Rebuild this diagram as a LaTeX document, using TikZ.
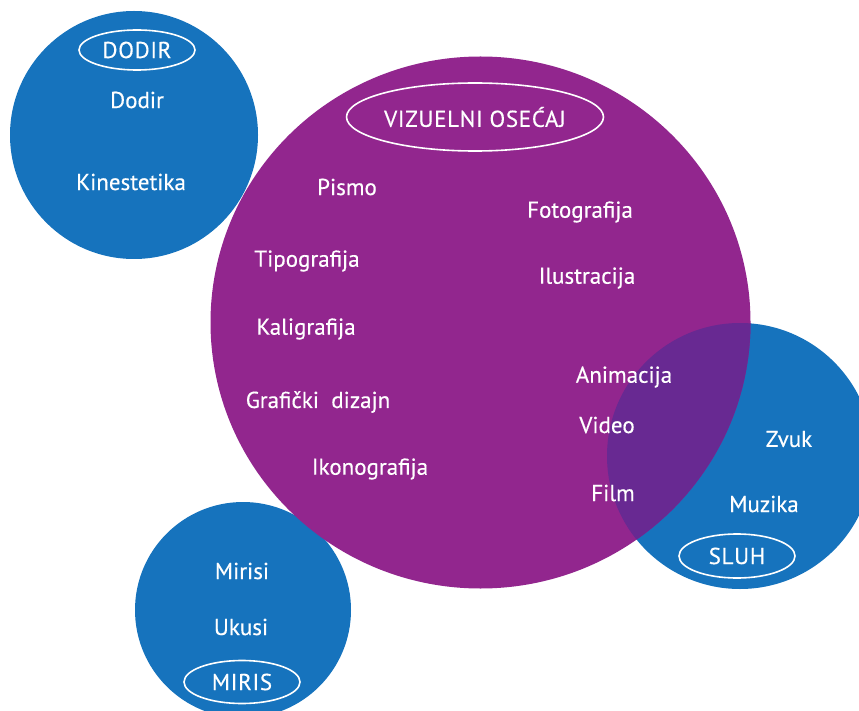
\documentclass[tikz,border=0pt]{standalone}
\usepackage{fontspec}
\newfontfamily\lblfont{PT Sans}[FakeBold=0.35]
\usetikzlibrary{shapes.geometric}
\definecolor{blueC}{RGB}{22,115,189}
\definecolor{purpleC}{RGB}{146,38,142}
\definecolor{overlapC}{RGB}{104,41,146}
\tikzset{
  lbl/.style={text=white, font=\lblfont\fontsize{23}{26}\selectfont, inner sep=0pt},
  tag/.style={ellipse, draw=white, line width=1.6pt, text=white, font=\lblfont\fontsize{23}{26}\selectfont\addfontfeatures{LetterSpace=3}, inner sep=0pt},
  bluedisc/.style={circle, fill=blueC, inner sep=0pt}
}
\begin{document}
\begin{tikzpicture}[x=1pt,y=-1pt]
\useasboundingbox (0,0) rectangle (859,711);
% discs
\node[bluedisc, minimum size=248pt] (touch) at (134,135) {};
\node[bluedisc, minimum size=216pt] (smell) at (243,610) {};
\node[bluedisc, minimum size=266pt] (hear) at (740,456) {};
\node[ellipse, fill=purpleC, inner sep=0pt, minimum width=540pt, minimum height=532pt] (vis) at (480.5,322.5) {};
\begin{scope}
  \clip (480.5,322.5) ellipse [x radius=270pt, y radius=266pt];
  \fill[overlapC] (740,456) circle [radius=133pt];
\end{scope}
% touch
\node[tag, minimum width=116pt, minimum height=40pt] (dodirtag) at (137,50) {DODIR};
\node[lbl] (dodir) at (137,100) {Dodir};
\node[lbl] (kin) at (131,182) {Kinestetika};
% visual
\node[tag, minimum width=250pt, minimum height=68pt] (vistag) at (475,117) {VIZUELNI OSEĆAJ};
\node[lbl] (pismo) at (347,187) {Pismo};
\node[lbl] (foto) at (580,212) {Fotografija};
\node[lbl] (tipo) at (307,261) {Tipografija};
\node[lbl] (ilu) at (587,278) {Ilustracija};
\node[lbl] (kali) at (306,329) {Kaligrafija};
\node[lbl] (anim) at (624,377) {Animacija};
\node[lbl] (graf) at (318,402) {Grafički\ \ dizajn};
\node[lbl] (video) at (607,425) {Video};
\node[lbl] (ikono) at (370,469) {Ikonografija};
\node[lbl] (film) at (613,493) {Film};
% hearing
\node[lbl] (zvuk) at (789,439) {Zvuk};
\node[lbl] (muz) at (764,504) {Muzika};
\node[tag, minimum width=116pt, minimum height=44pt] (sluhtag) at (737,556) {SLUH};
% smell
\node[lbl] (mirisi) at (242,571) {Mirisi};
\node[lbl] (ukusi) at (241,627) {Ukusi};
\node[tag, minimum width=116pt, minimum height=43pt] (miristag) at (242,682) {MIRIS};
\end{tikzpicture}
\end{document}
